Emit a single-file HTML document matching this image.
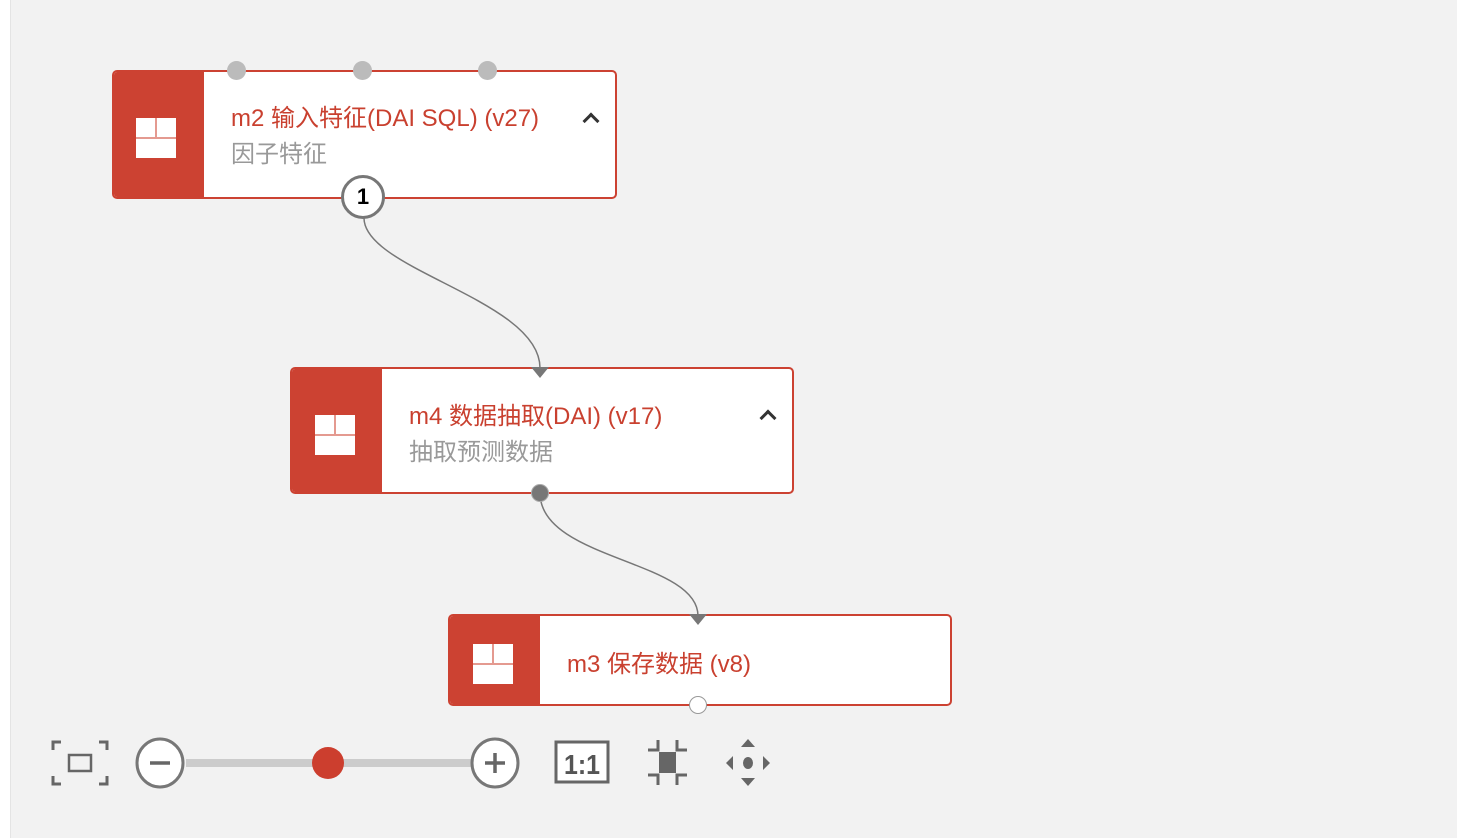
<!DOCTYPE html>
<html><head><meta charset="utf-8"><style>
body{margin:0;width:1458px;height:838px;background:#fff;position:relative;overflow:hidden;font-family:"Liberation Sans","Noto Sans CJK SC",sans-serif}
#bg{position:absolute;left:10px;top:0;width:1446px;height:838px;background:#f2f2f2;border-left:1px solid #e4e4e4}
.node{position:absolute;background:#fff;border:2px solid #cc4232;border-radius:5px;box-sizing:border-box;overflow:hidden}
.node .side{position:absolute;left:0;top:0;bottom:0;width:90px;background:#cc4232}
.icon{position:absolute;width:40px;height:40px;background:#fff}
.icon:before{content:"";position:absolute;left:0;right:0;top:19px;height:1.5px;background:#e49a90}
.icon:after{content:"";position:absolute;left:19px;top:0;height:19px;width:1.5px;background:#e49a90}
.t{position:absolute;color:#c9402f;font-size:24px;white-space:nowrap}
.s{position:absolute;color:#999;font-size:24px;white-space:nowrap}
.car{position:absolute;width:9px;height:9px;border-left:3px solid #333;border-top:3px solid #333;transform:rotate(45deg)}
.dot{position:absolute;border-radius:50%}
</style></head><body>
<div id="bg"></div>
<svg style="position:absolute;left:0;top:0" width="1458" height="838">
<path d="M364 218 C364 270 540 300 540 368" stroke="#777" stroke-width="1.5" fill="none"/>
<path d="M540 493 C540 560 698 560 698 616" stroke="#777" stroke-width="1.5" fill="none"/>
</svg>
<div class="node" style="left:112px;top:70px;width:505px;height:129px;border-width:2.5px"><div class="side"></div>
<div class="icon" style="left:22px;top:46px"></div>
<div class="t" style="left:117px;top:26px">m2 输入特征(DAI SQL) (v27)</div>
<div class="s" style="left:117px;top:62px">因子特征</div>
<div class="car" style="left:471px;top:43px"></div></div>
<div class="dot" style="left:227px;top:61px;width:19px;height:19px;background:#bbb"></div>
<div class="dot" style="left:353px;top:61px;width:19px;height:19px;background:#bbb"></div>
<div class="dot" style="left:478px;top:61px;width:19px;height:19px;background:#bbb"></div>
<div class="dot" style="left:341px;top:175px;width:44px;height:44px;background:#fff;border:3px solid #777;box-sizing:border-box;text-align:center;line-height:38px;font-weight:bold;font-size:22px">1</div>

<div class="node" style="left:290px;top:367px;width:504px;height:127px"><div class="side"></div>
<div class="icon" style="left:23px;top:46px"></div>
<div class="t" style="left:117px;top:27px">m4 数据抽取(DAI) (v17)</div>
<div class="s" style="left:117px;top:63px">抽取预测数据</div>
<div class="car" style="left:470px;top:43px"></div></div>
<svg style="position:absolute;left:530px;top:367px" width="20" height="12"><path d="M1 0 L19 0 L10 11Z" fill="#777"/></svg>
<div class="dot" style="left:531px;top:484px;width:18px;height:18px;background:#777;border:1.5px solid #aaa;box-sizing:border-box"></div>

<div class="node" style="left:448px;top:614px;width:504px;height:92px"><div class="side"></div>
<div class="icon" style="left:23px;top:28px"></div>
<div class="t" style="left:117px;top:28px">m3 保存数据 (v8)</div></div>
<svg style="position:absolute;left:688px;top:614px" width="20" height="12"><path d="M1 0 L19 0 L10 11Z" fill="#777"/></svg>
<div class="dot" style="left:689px;top:696px;width:18px;height:18px;background:#fff;border:1.5px solid #999;box-sizing:border-box"></div>

<svg style="position:absolute;left:0;top:720px" width="800" height="90">
<g stroke="#666" stroke-width="3" fill="none">
<path d="M53 30 V22 H61 M99 22 H107 V30 M53 56 V64 H61 M99 64 H107 V56"/>
<rect x="69" y="35" width="22" height="16" stroke-width="2.5"/>
</g>
<rect x="186" y="39" width="285" height="8" fill="#ccc"/>
<ellipse cx="160" cy="43" rx="23" ry="24" fill="#fff" stroke="#777" stroke-width="3"/>
<line x1="150" y1="43" x2="170" y2="43" stroke="#666" stroke-width="3.5"/>
<ellipse cx="495" cy="43" rx="23" ry="24" fill="#fff" stroke="#777" stroke-width="3"/>
<path d="M485 43 H505 M495 33 V53" stroke="#666" stroke-width="3.5"/>
<ellipse cx="328" cy="43" rx="16" ry="16" fill="#cc3e2e"/>
<rect x="556" y="22" width="52" height="40" fill="#fff" stroke="#666" stroke-width="3"/>
<text x="582" y="54" font-size="28" fill="#555" text-anchor="middle" font-weight="bold" textLength="36" lengthAdjust="spacingAndGlyphs">1:1</text>
<g stroke="#666" stroke-width="3" fill="none">
<path d="M658 20 V30 H648 M677 20 V30 H687 M648 55 H658 V65 M687 55 H677 V65"/>
</g>
<rect x="659" y="32" width="17" height="21" fill="#666"/>
<g fill="#666">
<path d="M741 27 L755 27 L748 19Z M741 58 L755 58 L748 66Z M733 36 L733 50 L726 43Z M763 36 L763 50 L770 43Z"/>
<ellipse cx="748" cy="43" rx="5" ry="6"/>
</g>
</svg>
</body></html>
